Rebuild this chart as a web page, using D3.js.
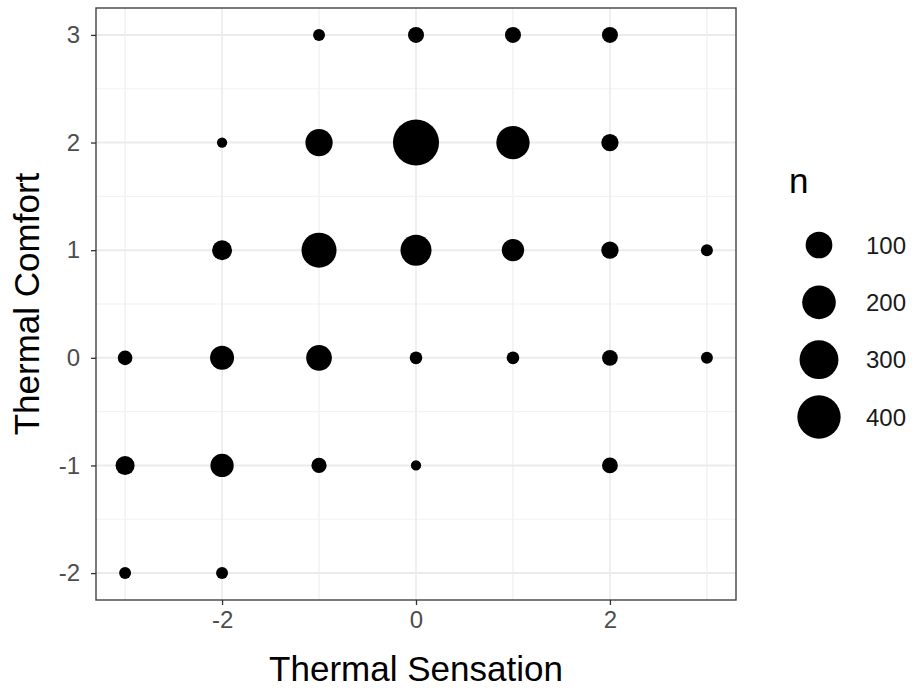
<!DOCTYPE html>
<html><head><meta charset="utf-8">
<script src="https://cdn.jsdelivr.net/npm/d3@7"></script>
<style>body{margin:0;background:#fff}text{font-family:Arial,"Liberation Sans",sans-serif}</style>
</head><body>
<svg id="c" width="915" height="691"></svg>
<script>
const sensation = [-1,0,1,2, -2,-1,0,1,2, -2,-1,0,1,2,3, -3,-2,-1,0,1,2,3, -3,-2,-1,0,2, -3,-2];
const comfort   = [ 3,3,3,3,  2,2,2,2,2,  1,1,1,1,1,1,  0,0,0,0,0,0,0, -1,-1,-1,-1,-1, -2,-2];
const counts    = [ 2,13,13,13, 1,107,470,195,19, 35,224,158,54,19,2, 8,70,88,3,3,12,2, 29,63,10,1,12, 2,2];
const xTicks = [-2,0,2];
const yTicks = [-2,-1,0,1,2,3];
const legendBreaks = [100,200,300,400];

const svg = d3.select("#c");
const L=96, R=736, T=8, B=600;
const x = d3.scaleLinear().domain([-3.3,3.3]).range([L,R]);
const y = d3.scaleLinear().domain([-2.25,3.25]).range([B,T]);
const t = d3.scaleLinear().domain(d3.extent(counts)).range([0,1]);
const rs = d3.scaleLinear().domain([0,1]).range([5.15,23.05]);
const r = v => rs(Math.sqrt(Math.max(0,t(v))));
const fmt = v => String(v);

const g = svg.append("g");
// minor grid
[-3,-1,1,3].forEach(v=>g.append("line").attr("x1",x(v)).attr("x2",x(v)).attr("y1",T).attr("y2",B).attr("stroke","#ebebeb").attr("stroke-width",1));
[-1.5,-0.5,0.5,1.5,2.5].forEach(v=>g.append("line").attr("y1",y(v)).attr("y2",y(v)).attr("x1",L).attr("x2",R).attr("stroke","#f2f2f2").attr("stroke-width",1.2));
// major grid
xTicks.forEach(v=>g.append("line").attr("x1",x(v)).attr("x2",x(v)).attr("y1",T).attr("y2",B).attr("stroke","#ebebeb").attr("stroke-width",1.6));
yTicks.forEach(v=>g.append("line").attr("y1",y(v)).attr("y2",y(v)).attr("x1",L).attr("x2",R).attr("stroke","#ebebeb").attr("stroke-width",2));

// points
g.selectAll("circle.pt").data(counts.map((n,i)=>({x:sensation[i],y:comfort[i],n})))
 .enter().append("circle").attr("class","pt")
 .attr("cx",d=>x(d.x)).attr("cy",d=>y(d.y)).attr("r",d=>r(d.n)).attr("fill","#000");

// panel border
svg.append("rect").attr("x",L).attr("y",T).attr("width",R-L).attr("height",B-T)
 .attr("fill","none").attr("stroke","#333").attr("stroke-width",1.3);

// axes
const xa = svg.append("g").attr("transform",`translate(0,${B})`)
 .call(d3.axisBottom(x).tickValues(xTicks).tickFormat(fmt).tickSize(5).tickPadding(3));
const ya = svg.append("g").attr("transform",`translate(${L},0)`)
 .call(d3.axisLeft(y).tickValues(yTicks).tickFormat(fmt).tickSize(5).tickPadding(11));
[xa,ya].forEach(a=>{
  a.select(".domain").remove();
  a.selectAll(".tick line").attr("stroke","#333").attr("stroke-width",1.3);
  a.selectAll(".tick text").attr("fill","#4d4d4d").style("font-size","24px");
});
xa.selectAll(".tick text").attr("dy","0.85em");

svg.append("text").attr("x",(L+R)/2).attr("y",681).attr("text-anchor","middle")
 .style("font-size","35px").attr("fill","#000").text("Thermal Sensation");
svg.append("text").attr("transform",`translate(39,${(T+B)/2}) rotate(-90)`).attr("text-anchor","middle")
 .style("font-size","35px").attr("fill","#000").text("Thermal Comfort");

// legend
svg.append("text").attr("x",789).attr("y",193).style("font-size","35px").attr("fill","#000").text("n");
const ly = d3.scaleLinear().domain([100,400]).range([245,417]);
legendBreaks.forEach(b=>{
  svg.append("circle").attr("cx",819).attr("cy",ly(b)).attr("r",r(b)).attr("fill","#000");
  svg.append("text").attr("x",866).attr("y",ly(b)).attr("dy","0.36em").style("font-size","24px").attr("fill","#1a1a1a").text(b);
});
</script>
</body></html>
